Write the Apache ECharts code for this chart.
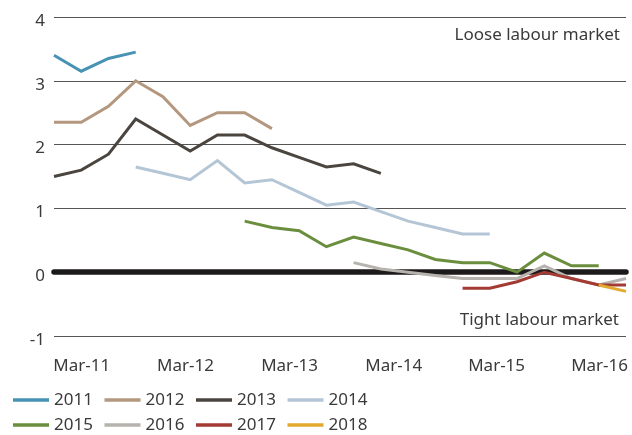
<!DOCTYPE html>
<html>
<head>
<meta charset="utf-8">
<script src="https://cdn.jsdelivr.net/npm/echarts@6/dist/echarts.min.js"></script>
<style>
  html, body { margin: 0; padding: 0; background: #ffffff; }
  #chart { width: 632px; height: 435px; }
</style>
</head>
<body>
<div id="chart"></div>
<script>
// ---- data (quarterly periods, index 0 = first period shown) ----
var seriesNames = ['2011', '2012', '2013', '2014', '2015', '2016', '2017', '2018'];
var seriesStart = [0, 0, 0, 3, 7, 11, 15, 20];
var v2011 = [3.4, 3.15, 3.35, 3.45];
var v2012 = [2.35, 2.35, 2.6, 3.0, 2.75, 2.3, 2.5, 2.5, 2.25];
var v2013 = [1.5, 1.6, 1.85, 2.4, 2.15, 1.9, 2.15, 2.15, 1.95, 1.8, 1.65, 1.7, 1.55];
var v2014 = [1.65, 1.55, 1.45, 1.75, 1.4, 1.45, 1.25, 1.05, 1.1, 0.95, 0.8, 0.7, 0.6, 0.6];
var v2015 = [0.8, 0.7, 0.65, 0.4, 0.55, 0.45, 0.35, 0.2, 0.15, 0.15, 0.0, 0.3, 0.1, 0.1];
var v2016 = [0.15, 0.05, 0.0, -0.05, -0.1, -0.1, -0.1, 0.1, -0.1, -0.2, -0.1];
var v2017 = [-0.25, -0.25, -0.15, 0.0, -0.1, -0.2, -0.2];
var v2018 = [-0.2, -0.3];
var seriesValues = [v2011, v2012, v2013, v2014, v2015, v2016, v2017, v2018];

// x tick labels and where they sit on the period scale
var xTickLabels = ['Mar-11', 'Mar-12', 'Mar-13', 'Mar-14', 'Mar-15', 'Mar-16'];
var xTickPositions = [1.02, 4.83, 8.65, 12.47, 16.25, 20.03];
var yTicks = [-1, 0, 1, 2, 3, 4];

// ---- styling ----
var colors = ['#4892b4', '#b4977f', '#4b4540', '#b4c6d5', '#6a8e3e', '#b6b2ad', '#a33b34', '#e2a92d'];
var FONT = "'Noto Sans', 'Liberation Sans', sans-serif";
var TXT = '#3a3a3a';

var chart = echarts.init(document.getElementById('chart'), null, { renderer: 'canvas' });

var series = seriesNames.map(function (name, i) {
  return {
    name: name,
    type: 'line',
    xAxisIndex: 0,
    yAxisIndex: 0,
    showSymbol: false,
    symbol: 'none',
    smooth: false,
    animation: false,
    lineStyle: { width: 3, color: colors[i], cap: 'butt', join: 'miter' },
    itemStyle: { color: colors[i] },
    data: seriesValues[i].map(function (v, k) { return [seriesStart[i] + k, v]; }),
    z: 2 + i
  };
});

function legendRow(names, top) {
  return {
    data: names,
    left: 13,
    top: top,
    orient: 'horizontal',
    icon: 'rect',
    itemWidth: 36,
    itemHeight: 3.5,
    itemGap: 10.5,
    padding: 0,
    selectedMode: false,
    textStyle: { fontFamily: FONT, fontSize: 17, color: TXT, width: 40, lineHeight: 20, padding: [0, 0, 0, 0] }
  };
}

var option = {
  animation: false,
  backgroundColor: '#ffffff',
  color: colors,
  grid: { left: 54, right: 6, top: 17, bottom: 99, containLabel: false },
  legend: [
    legendRow(seriesNames.slice(0, 4), 390),
    legendRow(seriesNames.slice(4, 8), 415)
  ],
  xAxis: [
    {
      type: 'value',
      position: 'bottom',
      min: 0,
      max: 21,
      axisLine: { show: false, onZero: false },
      axisTick: { show: false },
      splitLine: { show: false },
      axisLabel: {
        show: true,
        customValues: xTickPositions,
        margin: 22,
        fontFamily: FONT,
        fontSize: 17,
        color: TXT,
        showMinLabel: true,
        showMaxLabel: true,
        hideOverlap: false,
        formatter: function (val) {
          for (var j = 0; j < xTickPositions.length; j++) {
            if (Math.abs(xTickPositions[j] - val) < 1e-6) return xTickLabels[j];
          }
          return '';
        }
      }
    },
    {
      type: 'value',
      position: 'top',
      min: 0,
      max: 21,
      axisLine: { show: true, onZero: true, lineStyle: { color: '#1c1a1a', width: 5.5 } },
      axisTick: { show: false },
      axisLabel: { show: false },
      splitLine: { show: false }
    }
  ],
  yAxis: {
    type: 'value',
    min: yTicks[0],
    max: yTicks[yTicks.length - 1],
    interval: 1,
    axisLine: { show: false },
    axisTick: { show: false },
    splitLine: { show: true, lineStyle: { color: '#555555', width: 1 } },
    axisLabel: {
      margin: 9,
      fontFamily: FONT,
      fontSize: 17,
      color: TXT,
      verticalAlign: 'top',
      lineHeight: 8
    }
  },
  graphic: [
    {
      type: 'text',
      z: 100,
      style: { text: 'Loose labour market', x: 620, y: 35, align: 'right', verticalAlign: 'middle',
               font: "17px 'Noto Sans', 'Liberation Sans', sans-serif", fill: TXT }
    },
    {
      type: 'text',
      z: 100,
      style: { text: 'Tight labour market', x: 619, y: 320, align: 'right', verticalAlign: 'middle',
               font: "17px 'Noto Sans', 'Liberation Sans', sans-serif", fill: TXT }
    }
  ],
  series: series
};

chart.setOption(option);
</script>
</body>
</html>
